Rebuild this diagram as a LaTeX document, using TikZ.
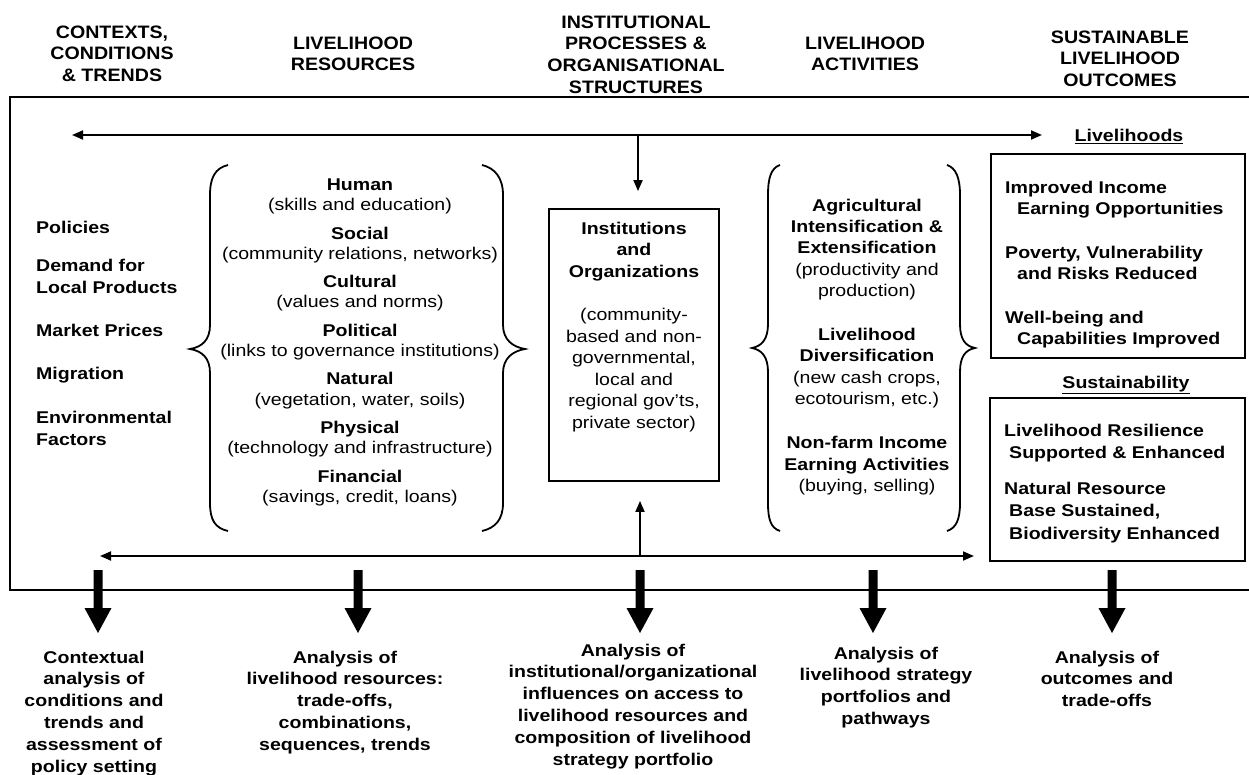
\documentclass[tikz,border=0pt]{standalone}
\usepackage{fontspec}
\setmainfont{Liberation Sans}[FakeStretch=1.15]
\newfontfamily\hdrfont{Liberation Sans}[FakeStretch=1.09]
\usetikzlibrary{arrows.meta}
\newcommand\thickdown[1]{\fill (#1) ++(-4.5,0) -- ++(0,38) -- ++(-9,0) -- ++(13.5,25) -- ++(13.5,-25) -- ++(-9,0) -- ++(0,-38) -- cycle;}
\begin{document}
\begin{tikzpicture}[x=1pt,y=-1pt,
  hdr/.style={font=\hdrfont\fontsize{18}{21.7}\selectfont\bfseries,align=center,inner sep=0pt,anchor=north},
  bt/.style={font=\fontsize{17}{21.8}\selectfont\bfseries,align=center,inner sep=0pt,anchor=north},
  lst/.style={font=\fontsize{17}{22}\selectfont\bfseries,align=left,inner sep=0pt,anchor=north west},
  outc/.style={font=\fontsize{17}{21}\selectfont\bfseries,align=left,inner sep=0pt,anchor=north west},
  lab/.style={font=\fontsize{17}{21}\selectfont\bfseries,inner sep=0pt,anchor=base},
  box/.style={draw,line width=1.8pt,inner sep=0pt},
  brace/.style={line width=1.8pt},
  thinarr/.style={line width=1.8pt,-{Triangle[length=11pt,width=9pt]}},
  dblarr/.style={line width=1.8pt,{Triangle[length=11pt,width=9pt]}-{Triangle[length=11pt,width=9pt]}},
]
\useasboundingbox (0,0) rectangle (1249,775);
\fill[white] (0,0) rectangle (1249,775);

% headers
\node[hdr] (hctx) at (112,25.4) {CONTEXTS,\\CONDITIONS\\\& TRENDS};
\node[hdr] (hres) at (353,36.4) {LIVELIHOOD\\RESOURCES};
\node[hdr] (hinst) at (636,15.4) {INSTITUTIONAL\\PROCESSES \&\\ORGANISATIONAL\\STRUCTURES};
\node[hdr] (hact) at (865,36.4) {LIVELIHOOD\\ACTIVITIES};
\node[hdr] (hout) at (1120,30.4) {SUSTAINABLE\\LIVELIHOOD\\OUTCOMES};

% main frame
\draw[line width=2pt] (10,97) rectangle (1262,590);

% contexts list
\node[lst] (pol) at (36,220.6) {Policies};
\node[lst] (dem) at (36,258.6) {Demand for\\Local Products};
\node[lst] (mkt) at (36,323.6) {Market Prices};
\node[lst] (mig) at (36,366.6) {Migration};
\node[lst] (env) at (36,410.6) {Environmental\\Factors};

% resources
\node[font=\fontsize{17}{20.3}\selectfont,align=center,inner sep=0pt,anchor=north] (res) at (360,178.6)
 {\textbf{Human}\\(skills and education)\\[8pt]
  \textbf{Social}\\(community relations, networks)\\[8pt]
  \textbf{Cultural}\\(values and norms)\\[8pt]
  \textbf{Political}\\(links to governance institutions)\\[8pt]
  \textbf{Natural}\\(vegetation, water, soils)\\[8pt]
  \textbf{Physical}\\(technology and infrastructure)\\[8pt]
  \textbf{Financial}\\(savings, credit, loans)};
\draw[brace] (228,165) .. controls (215,168) and (210,178) .. (210,195) -- (210,325)
  .. controls (210,340) and (202,347) .. (190,349) .. controls (202,351) and (210,358) .. (210,373)
  -- (210,503) .. controls (210,520) and (215,528) .. (228,531);
\draw[brace] (482,165) .. controls (495,168) and (503,178) .. (503,195) -- (503,325)
  .. controls (503,340) and (513,347) .. (525,349) .. controls (513,351) and (503,358) .. (503,373)
  -- (503,503) .. controls (503,520) and (495,528) .. (482,531);

% institutions
\node[box,minimum width=170pt,minimum height=272pt] (inst) at (634,345) {};
\node[font=\fontsize{17}{21.6}\selectfont,align=center,inner sep=0pt,anchor=north] (insttxt) at (634,221.6)
 {\textbf{Institutions}\\\textbf{and}\\\textbf{Organizations}\\[21.6pt]
  (community-\\based and non-\\governmental,\\local and\\regional gov’ts,\\private sector)};

% activities
\node[font=\fontsize{17}{21.3}\selectfont,align=center,inner sep=0pt,anchor=north] (act) at (867,198.6)
 {\textbf{Agricultural}\\\textbf{Intensification \&}\\\textbf{Extensification}\\(productivity and\\production)\\[23pt]
  \textbf{Livelihood}\\\textbf{Diversification}\\(new cash crops,\\ecotourism, etc.)\\[23pt]
  \textbf{Non-farm Income}\\\textbf{Earning Activities}\\(buying, selling)};
\draw[brace] (780,165) .. controls (771,168) and (768,178) .. (768,195) -- (768,324)
  .. controls (768,339) and (762,346) .. (752,348) .. controls (762,350) and (768,357) .. (768,372)
  -- (768,503) .. controls (768,520) and (771,528) .. (780,531);
\draw[brace] (947,165) .. controls (956,168) and (960,178) .. (960,195) -- (960,324)
  .. controls (960,339) and (965,346) .. (975,348) .. controls (965,350) and (960,357) .. (960,372)
  -- (960,503) .. controls (960,520) and (956,528) .. (947,531);

% outcomes
\node[lab] (livlab) at (1129,142) {\underline{Livelihoods}};
\node[box,minimum width=254pt,minimum height=204pt] (livbox) at (1118,256) {};
\node[outc] (o1) at (1005,180.6) {Improved Income\\\hspace*{12pt}Earning Opportunities};
\node[outc] (o2) at (1005,245.6) {Poverty, Vulnerability\\\hspace*{12pt}and Risks Reduced};
\node[outc] (o3) at (1005,310.6) {Well-being and\\\hspace*{12pt}Capabilities Improved};
\node[lab] (suslab) at (1126,388) {\underline{Sustainability}};
\node[box,minimum width=255pt,minimum height=163pt] (susbox) at (1117.5,479.5) {};
\node[outc,font=\fontsize{17}{22}\selectfont\bfseries] (o4) at (1004,423.6) {Livelihood Resilience\\\hspace*{5pt}Supported \& Enhanced};
\node[outc,font=\fontsize{17}{22.5}\selectfont\bfseries] (o5) at (1004,481.6) {Natural Resource\\\hspace*{5pt}Base Sustained,\\\hspace*{5pt}Biodiversity Enhanced};

% thin arrows
\coordinate (tl) at (72,135);
\coordinate (tr) at (1042,135);
\coordinate (tm) at (638,135);
\draw[dblarr] (tl) -- (tr);
\draw[thinarr,shorten >=17pt] (tm) -- (tm |- inst.north);
\coordinate (bl) at (100,556);
\coordinate (br) at (974,556);
\coordinate (bm) at (640,556);
\draw[dblarr] (bl) -- (br);
\draw[thinarr,shorten >=19pt] (bm) -- (bm |- inst.south);

% bottom analysis texts
\node[bt] (t1) at (94,650.6) {Contextual\\analysis of\\conditions and\\trends and\\assessment of\\policy setting};
\node[bt] (t2) at (345,650.6) {Analysis of\\livelihood resources:\\trade-offs,\\combinations,\\sequences, trends};
\node[bt] (t3) at (633,643.6) {Analysis of\\institutional/organizational\\influences on access to\\livelihood resources and\\composition of livelihood\\strategy portfolio};
\node[bt] (t4) at (886,646.6) {Analysis of\\livelihood strategy\\portfolios and\\pathways};
\node[bt] (t5) at (1107,650.6) {Analysis of\\outcomes and\\trade-offs};

% thick arrows
\coordinate (s1) at (98,570);
\coordinate (s2) at (358,570);
\coordinate (s3) at (640,570);
\coordinate (s4) at (873,570);
\coordinate (s5) at (1112,570);
\thickdown{s1}
\thickdown{s2}
\thickdown{s3}
\thickdown{s4}
\thickdown{s5}
\end{tikzpicture}
\end{document}
